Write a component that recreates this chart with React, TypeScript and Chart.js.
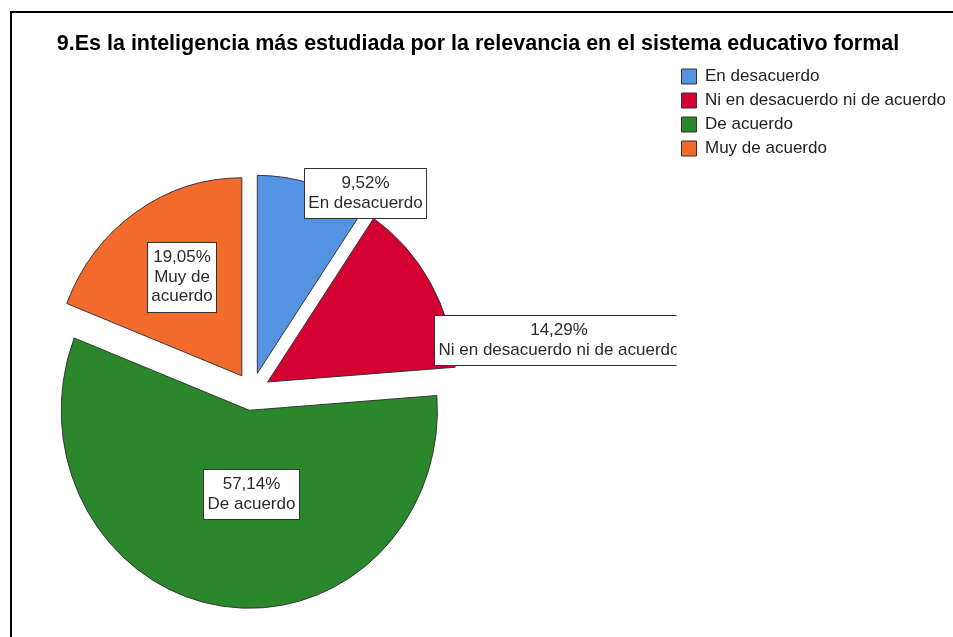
import React, { useEffect, useRef } from 'react';
import { Chart, ArcElement, PieController, Legend, Title, layouts } from 'chart.js';

// ---- data ----
const titleText = '9.Es la inteligencia más estudiada por la relevancia en el sistema educativo formal';
const categories = ['En desacuerdo', 'Ni en desacuerdo ni de acuerdo', 'De acuerdo', 'Muy de acuerdo'];
const percentages = [9.52, 14.29, 57.14, 19.05];

// ---- styles ----
const sliceColors = ['#5393E2', '#D40031', '#2A872C', '#F26A2C'];
const FONT = '"Liberation Sans", Arial, sans-serif';
// label placement: fraction along the slice's sweep, fraction of radius from the slice apex
const labelAngleFrac = [0.906, 0.926, 0.452, 0.543];
const labelRadiusFrac = [1.06, 1.484, 0.426, 0.582];
const labelWrapWidth = [Infinity, Infinity, Infinity, 65];
const LABEL_SIZE = 17;
const LABEL_LINE = 19.5;
const LABEL_PAD_H = 4.5;
const LABEL_PAD_V = 6;
const PIE_RADIUS = 198;
const PIE_SQUISH_X = 0.95;
const EXPLODE = 19;

class ExplodedArc extends ArcElement {
  static id = 'explodedArc';
  static defaults = { ...ArcElement.defaults, explode: 0, squishX: 1 };
  draw(ctx: CanvasRenderingContext2D) {
    const self: any = this;
    const e = (self.options && self.options.explode) || 0;
    const sx = (self.options && self.options.squishX) || 1;
    const mid = (self.startAngle + self.endAngle) / 2;
    ctx.save();
    ctx.translate(self.x, self.y);
    ctx.scale(sx, 1);
    ctx.translate(-self.x, -self.y);
    ctx.translate(Math.cos(mid) * e, Math.sin(mid) * e);
    super.draw(ctx);
    ctx.restore();
  }
}

class ExplodedPieController extends PieController {
  static id = 'explodedPie';
  static defaults = { dataElementType: 'explodedArc' };
}

Chart.register(ExplodedArc, ExplodedPieController, Legend, Title);

const SPACER_WIDTH = 170.5;

const areaSpacer = {
  id: 'areaSpacer',
  beforeInit(chart: any) {
    const box: any = {
      position: 'right',
      weight: 0,
      fullSize: false,
      options: { display: false },
      width: 0, height: 0, left: 0, top: 0, right: 0, bottom: 0,
      isHorizontal() { return false; },
      update(maxWidth: number, maxHeight: number) {
        this.width = Math.min(SPACER_WIDTH, maxWidth);
        this.height = maxHeight;
      },
      draw() {},
    };
    layouts.addBox(chart, box);
  },
};

function fmtPct(v: number) {
  return v.toFixed(2).replace('.', ',') + '%';
}

function wrapText(ctx: CanvasRenderingContext2D, text: string, maxW: number) {
  if (!isFinite(maxW)) return [text];
  const words = text.split(' ');
  const lines: string[] = [];
  let cur = '';
  words.forEach((w) => {
    const test = cur ? cur + ' ' + w : w;
    if (cur && ctx.measureText(test).width > maxW) {
      lines.push(cur);
      cur = w;
    } else {
      cur = test;
    }
  });
  if (cur) lines.push(cur);
  return lines;
}

const sliceLabels = {
  id: 'sliceLabels',
  afterDatasetsDraw(chart: any) {
    const ctx: CanvasRenderingContext2D = chart.ctx;
    const meta = chart.getDatasetMeta(0);
    const values: number[] = chart.data.datasets[0].data;
    const clipRight = chart.legend ? chart.legend.left + 2 : chart.width;
    ctx.save();
    ctx.beginPath();
    ctx.rect(0, 0, clipRight, chart.height);
    ctx.clip();
    ctx.font = `${LABEL_SIZE}px ${FONT}`;
    ctx.textAlign = 'center';
    ctx.textBaseline = 'middle';
    meta.data.forEach((arc: any, i: number) => {
      const { x, y, startAngle, endAngle, outerRadius } = arc.getProps(
        ['x', 'y', 'startAngle', 'endAngle', 'outerRadius'],
        true
      );
      const e = (arc.options && arc.options.explode) || 0;
      const sx = (arc.options && arc.options.squishX) || 1;
      const mid = (startAngle + endAngle) / 2;
      const ax = x + sx * Math.cos(mid) * e;
      const ay = y + Math.sin(mid) * e;
      const th = startAngle + labelAngleFrac[i] * (endAngle - startAngle);
      const r = labelRadiusFrac[i] * outerRadius;
      const cx = ax + Math.cos(th) * r;
      const cy = ay + Math.sin(th) * r;
      const lines = [fmtPct(values[i]), ...wrapText(ctx, chart.data.labels[i], labelWrapWidth[i])];
      const w = Math.round(Math.max(...lines.map((l) => ctx.measureText(l).width)) + 2 * LABEL_PAD_H);
      const h = Math.round(lines.length * LABEL_LINE + 2 * LABEL_PAD_V);
      const left = Math.round(cx - w / 2);
      const top = Math.round(cy - h / 2);
      ctx.fillStyle = '#ffffff';
      ctx.fillRect(left, top, w, h);
      ctx.strokeStyle = '#333333';
      ctx.lineWidth = 1;
      ctx.strokeRect(left + 0.5, top + 0.5, w - 1, h - 1);
      ctx.fillStyle = '#2b2b2b';
      lines.forEach((l, k) => {
        ctx.fillText(l, left + w / 2, top + LABEL_PAD_V + LABEL_LINE * (k + 0.5));
      });
    });
    ctx.restore();
  },
};

export default function App() {
  const canvasRef = useRef<HTMLCanvasElement | null>(null);

  useEffect(() => {
    const canvas = canvasRef.current;
    if (!canvas) return;
    const chart = new Chart(canvas, {
      type: 'explodedPie' as any,
      data: {
        labels: categories,
        datasets: [
          {
            data: percentages,
            backgroundColor: sliceColors,
            borderColor: '#333333',
            borderWidth: 1,
            radius: PIE_RADIUS,
            explode: EXPLODE,
            squishX: PIE_SQUISH_X,
          } as any,
        ],
      },
      options: {
        responsive: false,
        animation: false,
        devicePixelRatio: 1,
        events: [],
        layout: { padding: 0 },
        plugins: {
          title: {
            display: true,
            text: titleText,
            color: '#000000',
            font: { family: FONT, size: 21.5, weight: 'bold' },
            padding: { top: 31, bottom: 4.2 },
          },
          legend: {
            display: true,
            position: 'right',
            align: 'start',
            fullSize: false,
            labels: {
              boxWidth: 15,
              boxHeight: 15,
              padding: 7,
              color: '#222222',
              font: { family: FONT, size: 17 },
            },
          },
          tooltip: { enabled: false },
        },
      } as any,
      plugins: [areaSpacer, sliceLabels],
    });
    return () => chart.destroy();
  }, []);

  return (
    <div
      style={{
        position: 'absolute',
        left: 0,
        top: 0,
        width: 953,
        height: 637,
        overflow: 'hidden',
        background: '#ffffff',
      }}
    >
      <div
        style={{
          position: 'absolute',
          left: 10,
          top: 11,
          width: 2000,
          height: 2000,
          borderTop: '2px solid #000',
          borderLeft: '2px solid #000',
        }}
      />
      <canvas
        ref={canvasRef}
        width={956}
        height={722}
        style={{ position: 'absolute', left: 0, top: 0, width: 956, height: 722 }}
      />
    </div>
  );
}
